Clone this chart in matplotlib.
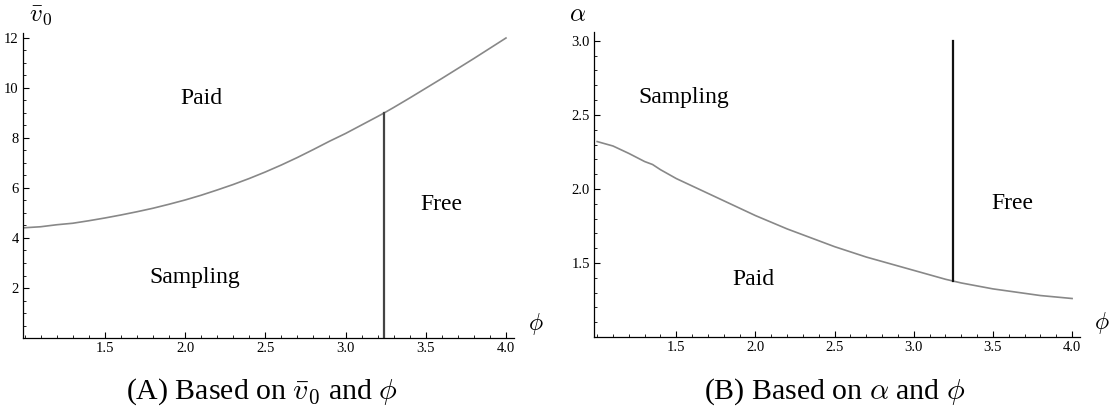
import numpy as np
import matplotlib.pyplot as plt
from matplotlib.ticker import MultipleLocator

plt.rcParams['mathtext.fontset'] = 'cm'

# panel A: boundary between paid and sampling, v0bar against phi
phi_a = [1.0, 1.1, 1.2, 1.3, 1.4, 1.5, 1.6, 1.7, 1.8, 1.9, 2.0, 2.1, 2.2, 2.3, 2.4, 2.5,
         2.6, 2.7, 2.8, 2.9, 3.0, 3.1, 3.2, 3.24, 3.3, 3.4, 3.5, 3.6, 3.7, 3.8, 3.9, 4.0]
v0_a = [4.41, 4.45, 4.53, 4.59, 4.69, 4.80, 4.92, 5.05, 5.19, 5.35, 5.52, 5.71, 5.92, 6.14, 6.38, 6.64,
        6.92, 7.22, 7.54, 7.87, 8.18, 8.52, 8.86, 9.0, 9.22, 9.60, 9.99, 10.38, 10.78, 11.18, 11.59, 12.0]
phi_cut_a = 3.24
v0_cut = 9.0

# panel B: boundary between sampling and paid, alpha against phi
phi_b = [1.0, 1.05, 1.1, 1.15, 1.2, 1.3, 1.35, 1.4, 1.5, 1.6, 1.7, 1.8, 1.9, 2.0, 2.1, 2.2, 2.3, 2.4, 2.5,
         2.6, 2.7, 2.8, 2.9, 3.0, 3.1, 3.2, 3.3, 3.4, 3.5, 3.6, 3.7, 3.8, 3.9, 4.0]
alpha_b = [2.32, 2.305, 2.29, 2.265, 2.24, 2.185, 2.165, 2.13, 2.07, 2.02, 1.97, 1.92, 1.87, 1.82, 1.775, 1.73, 1.69, 1.65, 1.61,
           1.575, 1.54, 1.51, 1.48, 1.45, 1.42, 1.39, 1.365, 1.345, 1.325, 1.31, 1.295, 1.28, 1.27, 1.26]
phi_cut_b = 3.245
alpha_cut = 1.38
alpha_top = 3.0

fig = plt.figure(figsize=(11.11, 4.15), dpi=100)
W, H = 1111, 415

def make_axes(left, right, top, bottom):
    ax = fig.add_axes([left / W, 1 - bottom / H, (right - left) / W, (bottom - top) / H])
    for s in ['top', 'right']:
        ax.spines[s].set_visible(False)
    for s in ['left', 'bottom']:
        ax.spines[s].set_linewidth(0.9)
    ax.tick_params(which='both', direction='in', pad=3)
    ax.tick_params(which='major', length=4.5, width=0.8)
    ax.tick_params(which='minor', length=2.5, width=0.6)
    return ax

tick_font = {'family': 'Liberation Serif', 'size': 10.5}
lab_font = {'family': 'Liberation Serif', 'size': 17}

# ---- panel A ----
ax1 = make_axes(23, 514, 33, 338)
ax1.set_xlim(0.99, 4.05)
ax1.set_ylim(0, 12.2)
ax1.plot(phi_a, v0_a, color='#888888', lw=1.2)
ax1.plot([phi_cut_a, phi_cut_a], [0, v0_cut], color='#444444', lw=1.6)
ax1.set_xticks([1.5, 2.0, 2.5, 3.0, 3.5, 4.0])
ax1.set_xticklabels(['1.5', '2.0', '2.5', '3.0', '3.5', '4.0'], fontdict=tick_font)
ax1.set_yticks([2, 4, 6, 8, 10, 12])
ax1.set_yticklabels(['2', '4', '6', '8', '10', '12'], fontdict=tick_font)
ax1.xaxis.set_minor_locator(MultipleLocator(0.1))
ax1.yaxis.set_minor_locator(MultipleLocator(0.5))
ax1.text(2.10, 9.6, 'Paid', ha='center', va='center', fontdict=lab_font)
ax1.text(3.60, 5.36, 'Free', ha='center', va='center', fontdict=lab_font)
ax1.text(2.06, 2.44, 'Sampling', ha='center', va='center', fontdict=lab_font)
fig.text(41 / W, 1 - 15 / H, r'$\bar{v}_0$', ha='center', va='center', fontsize=18)
fig.text(536 / W, 1 - 324 / H, r'$\phi$', ha='center', va='center', fontsize=17)

# ---- panel B ----
ax2 = make_axes(594, 1080, 32, 337)
ax2.set_xlim(0.98, 4.05)
ax2.set_ylim(1.0, 3.06)
ax2.plot(phi_b, alpha_b, color='#888888', lw=1.2)
ax2.plot([phi_cut_b, phi_cut_b], [alpha_cut, alpha_top], color='#111111', lw=1.6)
ax2.set_xticks([1.5, 2.0, 2.5, 3.0, 3.5, 4.0])
ax2.set_xticklabels(['1.5', '2.0', '2.5', '3.0', '3.5', '4.0'], fontdict=tick_font)
ax2.set_yticks([1.5, 2.0, 2.5, 3.0])
ax2.set_yticklabels(['1.5', '2.0', '2.5', '3.0'], fontdict=tick_font)
ax2.xaxis.set_minor_locator(MultipleLocator(0.1))
ax2.yaxis.set_minor_locator(MultipleLocator(0.1))
ax2.text(1.55, 2.62, 'Sampling', ha='center', va='center', fontdict=lab_font)
ax2.text(3.62, 1.90, 'Free', ha='center', va='center', fontdict=lab_font)
ax2.text(1.99, 1.385, 'Paid', ha='center', va='center', fontdict=lab_font)
fig.text(578 / W, 1 - 14 / H, r'$\alpha$', ha='center', va='center', fontsize=18)
fig.text(1102 / W, 1 - 323 / H, r'$\phi$', ha='center', va='center', fontsize=17)

# captions
cap_font = {'family': 'Liberation Serif', 'size': 21.5}
fig.text(262 / W, 1 - 392 / H, r'(A) Based on $\bar{v}_0$ and $\phi$', ha='center', va='center', fontdict=cap_font)
fig.text(835 / W, 1 - 392 / H, r'(B) Based on $\alpha$ and $\phi$', ha='center', va='center', fontdict=cap_font)

fig.savefig('out.png', dpi=100)
